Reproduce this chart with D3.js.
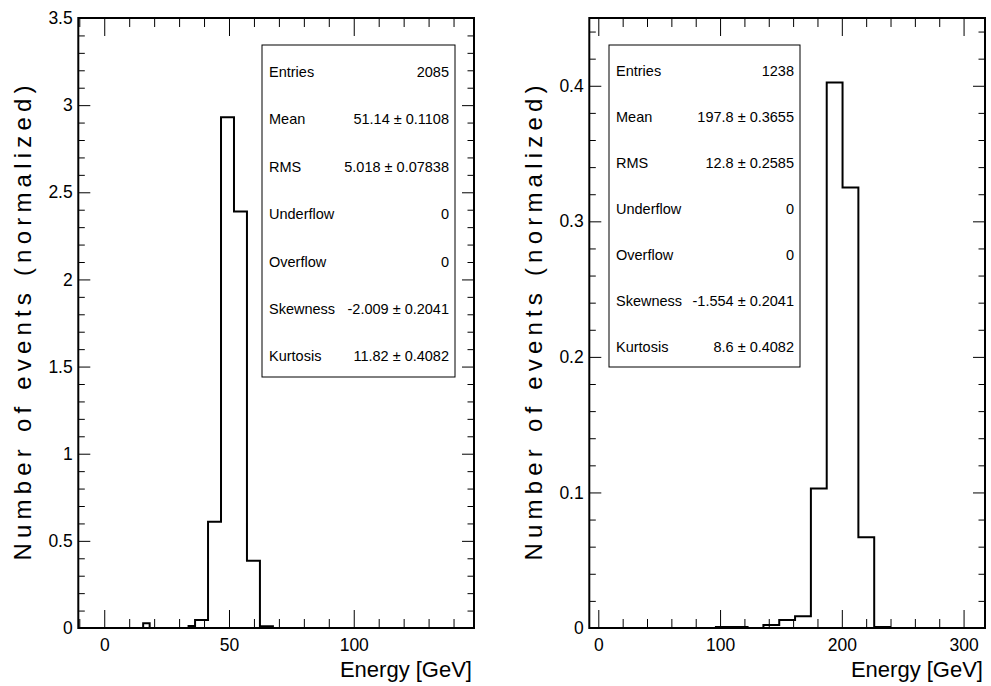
<!DOCTYPE html>
<html>
<head>
<meta charset="utf-8">
<script src="https://cdn.jsdelivr.net/npm/d3@7"></script>
<style>
  html, body { margin: 0; padding: 0; background: #fff; }
  svg { display: block; font-family: "Liberation Sans", Arial, Helvetica, sans-serif; }
</style>
</head>
<body>
<svg id="chart" width="991" height="686"></svg>
<script>
// ---------------- DATA ----------------
// Left histogram (bin edges in GeV, normalized counts per bin)
const leftEdges  = [-10.4, 15.6, 18.2, 33.8, 36.4, 41.6, 46.8, 52.0, 57.2, 62.4, 67.6, 148.2];
const leftValues = [0, 0.027, 0, 0.012, 0.046, 0.61, 2.93, 2.39, 0.386, 0.01, 0];
// Right histogram
const rightEdges  = [-7.4, 96.6, 122.6, 135.6, 148.6, 161.6, 174.6, 187.6, 200.6, 213.6, 226.6, 239.6, 317.6];
const rightValues = [0, 0.0008, 0, 0.0022, 0.0059, 0.0086, 0.103, 0.4025, 0.325, 0.067, 0.0008, 0];

// Axis ranges and tick labels
const leftXDomain  = [-10.4, 148.2];
const leftYDomain  = [0, 3.5];
const rightXDomain = [-7.4, 317.6];
const rightYDomain = [0, 0.45];
const leftXTicks  = [0, 50, 100];
const leftYTicks  = [0, 0.5, 1, 1.5, 2, 2.5, 3, 3.5];
const rightXTicks = [0, 100, 200, 300];
const rightYTicks = [0, 0.1, 0.2, 0.3, 0.4];

// Titles
const xTitle = "Energy [GeV]";
const yTitle = "Number of events (normalized)";

// Statistics boxes
const statLabels  = ["Entries", "Mean", "RMS", "Underflow", "Overflow", "Skewness", "Kurtosis"];
const leftStats   = ["2085", "51.14 \u00b1 0.1108", "5.018 \u00b1 0.07838", "0", "0", "-2.009 \u00b1 0.2041", "11.82 \u00b1 0.4082"];
const rightStats  = ["1238", "197.8 \u00b1 0.3655", "12.8 \u00b1 0.2585", "0", "0", "-1.554 \u00b1 0.2041", "8.6 \u00b1 0.4082"];

// ---------------- DRAW ----------------
const svg = d3.select("#chart");
const frameTop = 18, frameBottom = 628;

function panel(cfg) {
  const x = d3.scaleLinear().domain(cfg.xDomain).range([cfg.left, cfg.right]);
  const y = d3.scaleLinear().domain(cfg.yDomain).range([frameBottom, frameTop]);
  const g = svg.append("g");

  const xMinor = d3.ticks(cfg.xDomain[0], cfg.xDomain[1], 16).filter(v => !cfg.xTicks.includes(v));
  const yMinor = d3.ticks(cfg.yDomain[0], cfg.yDomain[1], cfg.yMinorCount).filter(v => !cfg.yTicks.some(t => Math.abs(t - v) < 1e-9));

  const fmt = d => String(+d.toFixed(3));

  // bottom axis
  g.append("g").attr("transform", `translate(0,${frameBottom})`)
    .call(d3.axisBottom(x).tickValues(cfg.xTicks).tickSize(-18).tickPadding(10.5).tickFormat(fmt));
  g.append("g").attr("transform", `translate(0,${frameBottom})`)
    .call(d3.axisBottom(x).tickValues(xMinor).tickSize(-9).tickFormat(""));
  // top axis (mirrored ticks)
  g.append("g").attr("transform", `translate(0,${frameTop})`)
    .call(d3.axisTop(x).tickValues(cfg.xTicks).tickSize(-18).tickFormat(""));
  g.append("g").attr("transform", `translate(0,${frameTop})`)
    .call(d3.axisTop(x).tickValues(xMinor).tickSize(-9).tickFormat(""));
  // left axis
  g.append("g").attr("transform", `translate(${cfg.left},0)`)
    .call(d3.axisLeft(y).tickValues(cfg.yTicks).tickSize(-12).tickPadding(5.6).tickFormat(fmt));
  g.append("g").attr("transform", `translate(${cfg.left},0)`)
    .call(d3.axisLeft(y).tickValues(yMinor).tickSize(-6.5).tickFormat(""));
  // right axis (mirrored)
  g.append("g").attr("transform", `translate(${cfg.right},0)`)
    .call(d3.axisRight(y).tickValues(cfg.yTicks).tickSize(-12).tickFormat(""));
  g.append("g").attr("transform", `translate(${cfg.right},0)`)
    .call(d3.axisRight(y).tickValues(yMinor).tickSize(-6.5).tickFormat(""));

  g.selectAll(".domain").remove();
  g.selectAll(".tick line").attr("stroke", "#000").attr("stroke-width", 1);
  g.selectAll(".tick text").attr("font-size", 17.5).attr("fill", "#000")
    .attr("font-family", "'Liberation Sans', Arial, sans-serif");

  // histogram step line
  const pts = [[x(cfg.edges[0]), y(0)]];
  cfg.values.forEach((v, i) => {
    pts.push([x(cfg.edges[i]), y(v)]);
    pts.push([x(cfg.edges[i + 1]), y(v)]);
  });
  pts.push([x(cfg.edges[cfg.edges.length - 1]), y(0)]);
  g.append("path").attr("d", d3.line()(pts))
    .attr("fill", "none").attr("stroke", "#000").attr("stroke-width", 2)
    .attr("stroke-linejoin", "miter");

  // frame
  g.append("rect").attr("x", cfg.left).attr("y", frameTop)
    .attr("width", cfg.right - cfg.left).attr("height", frameBottom - frameTop)
    .attr("fill", "none").attr("stroke", "#000").attr("stroke-width", 2);

  // titles
  g.append("text").attr("x", cfg.right - 2).attr("y", 677)
    .attr("text-anchor", "end").attr("font-size", 22).text(xTitle);
  g.append("text")
    .attr("transform", `translate(${cfg.left - 47},${(frameTop + frameBottom) / 2}) rotate(-90)`)
    .attr("text-anchor", "middle").attr("font-size", 24)
    .attr("textLength", 475).attr("lengthAdjust", "spacing")
    .text(yTitle);

  // stats box
  const b = cfg.box;
  const sb = g.append("g");
  sb.append("rect").attr("x", b[0]).attr("y", b[1]).attr("width", b[2] - b[0]).attr("height", b[3] - b[1])
    .attr("fill", "#fff").attr("stroke", "#000").attr("stroke-width", 1);
  const rh = (b[3] - b[1]) / statLabels.length;
  statLabels.forEach((lab, i) => {
    const cy = b[1] + (i + 0.5) * rh + 3;
    sb.append("text").attr("x", b[0] + 7).attr("y", cy).attr("dy", "0.35em")
      .attr("font-size", 14.5).text(lab);
    sb.append("text").attr("x", b[2] - 6).attr("y", cy).attr("dy", "0.35em")
      .attr("text-anchor", "end").attr("font-size", 14.5).text(cfg.stats[i]);
  });
}

panel({
  left: 78.3, right: 474, xDomain: leftXDomain, yDomain: leftYDomain,
  xTicks: leftXTicks, yTicks: leftYTicks, yMinorCount: 35,
  edges: leftEdges, values: leftValues,
  box: [262, 45, 455, 377], stats: leftStats
});
panel({
  left: 589.3, right: 985, xDomain: rightXDomain, yDomain: rightYDomain,
  xTicks: rightXTicks, yTicks: rightYTicks, yMinorCount: 22,
  edges: rightEdges, values: rightValues,
  box: [609, 45, 800, 367], stats: rightStats
});
</script>
</body>
</html>
